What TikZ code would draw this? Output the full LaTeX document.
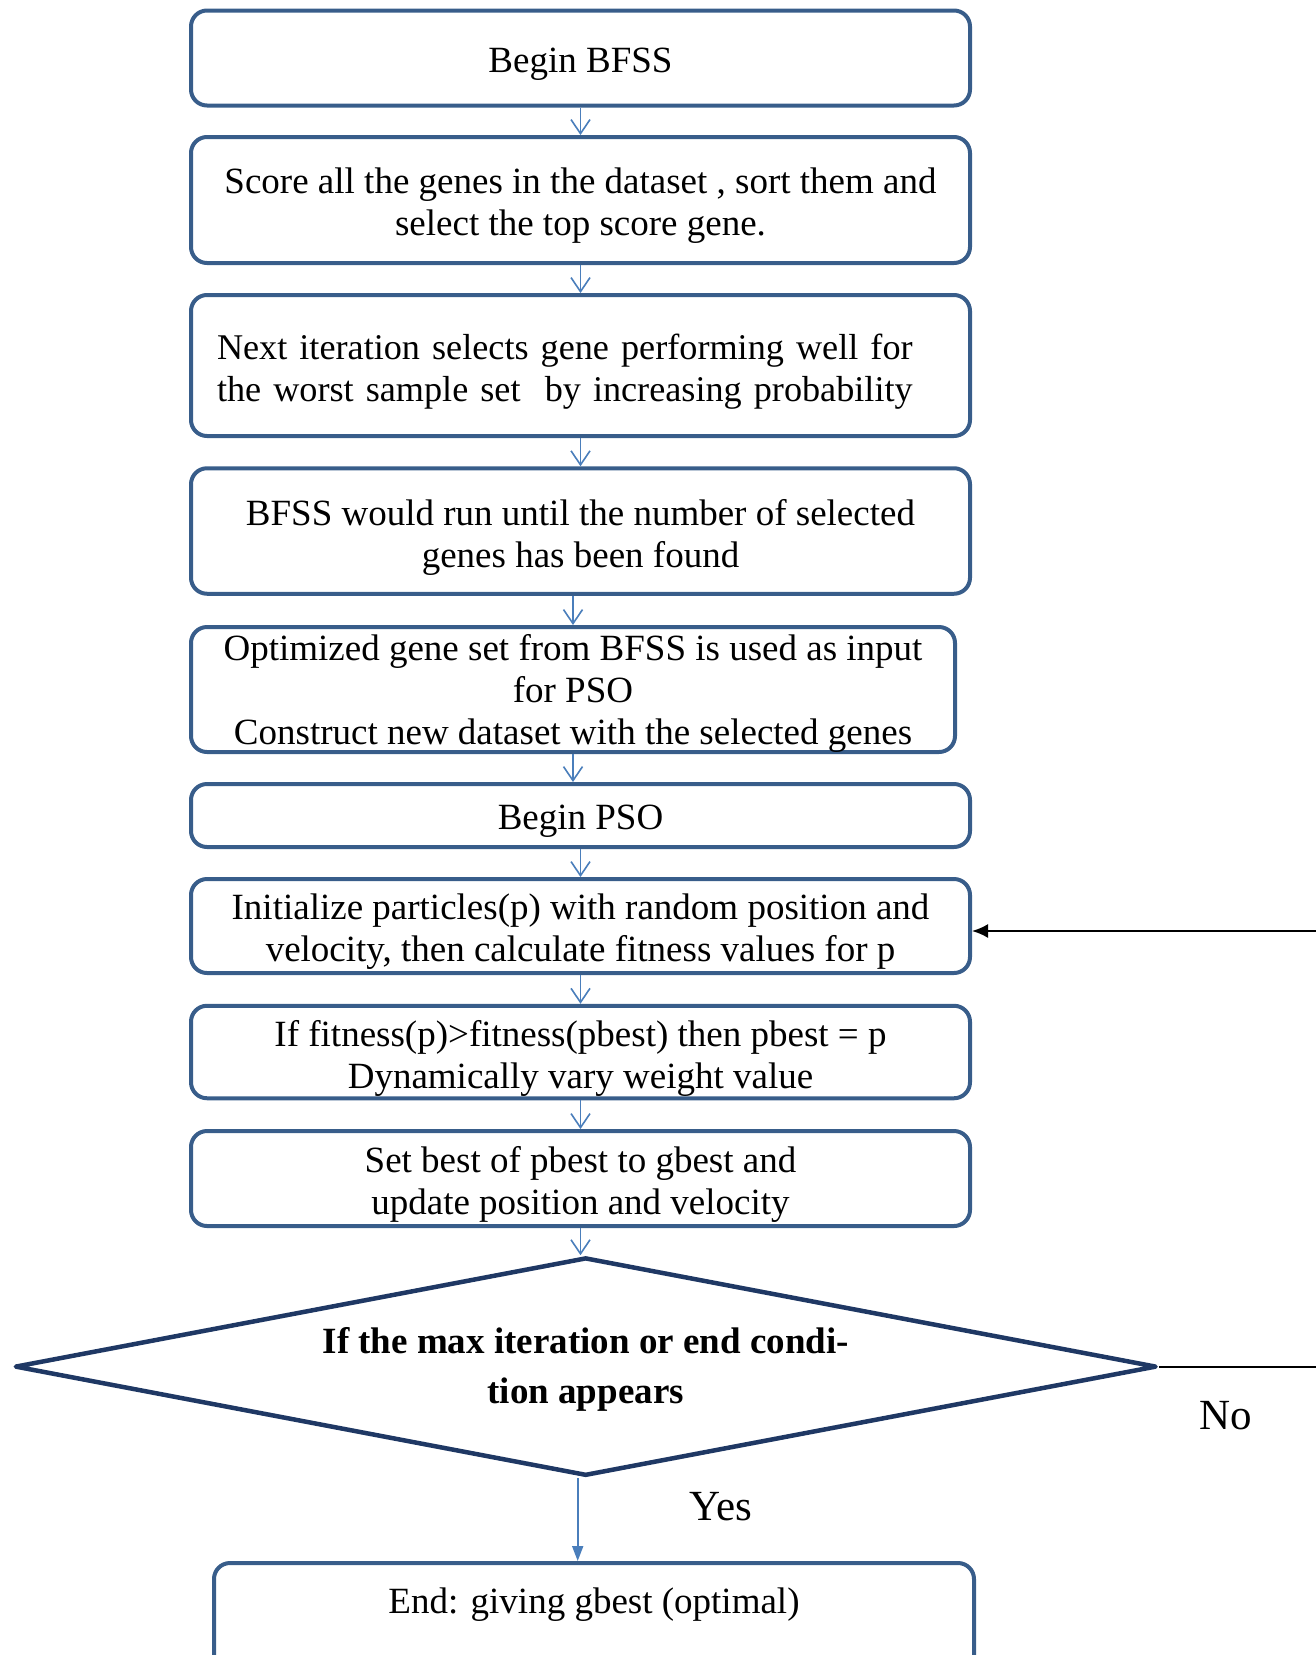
\documentclass[tikz,border=0pt]{standalone}
\usepackage{fontspec}
\setmainfont{Liberation Serif}
\usetikzlibrary{arrows.meta,shapes.geometric,calc}
\definecolor{boxc}{HTML}{385D8A}
\definecolor{arrc}{HTML}{4A7EBB}
\definecolor{dmc}{HTML}{1F3864}
\tikzset{
  box/.style={draw=boxc, line width=4pt, rounded corners=16pt, minimum width=779pt, inner sep=0pt},
  txt/.style={inner sep=0pt, align=center, font=\fontsize{37}{42}\selectfont, yshift=-6pt},
  arr/.style={draw=arrc, line width=1.6pt, -{Straight Barb[length=14pt,width=19pt]}},
  arrfill/.style={draw=arrc, line width=1.8pt, -{Triangle[length=15pt,width=11pt]}, fill=arrc},
  fb/.style={draw=black, line width=2pt},
  lbl/.style={inner sep=0pt, font=\fontsize{43}{48}\selectfont}
}
\begin{document}
\begin{tikzpicture}[x=1pt,y=-1pt]
\useasboundingbox (0,0) rectangle (1316,1655);
\clip (0,0) rectangle (1316,1655);
\node[box, minimum height=95pt, label={[txt]center:Begin BFSS}] (b1) at (580.5,58) {};
\node[box, minimum height=126pt, label={[txt]center:{Score all the genes in the dataset , sort them and\\select the top score gene.}}] (b2) at (580.5,200) {};
\node[box, minimum height=141pt, label={[txt, font=\fontsize{36.2}{42}\selectfont, text width=727pt, align=left]center:{Next iteration selects gene performing well for\\the worst sample set~ by increasing probability}}] (b3) at (580.5,365.5) {};
\node[box, minimum height=125.5pt, label={[txt]center:{BFSS would run until the number of selected\\genes has been found}}] (b4) at (580.5,531) {};
\node[box, minimum width=764pt, minimum height=125pt, label={[txt, yshift=2pt]center:{Optimized gene set from BFSS is used as input\\for PSO\\Construct new dataset with the selected genes}}] (b5) at (573,689.5) {};
\node[box, minimum height=63pt, label={[txt]center:Begin PSO}] (b6) at (580.5,815.5) {};
\node[box, minimum height=94pt, label={[txt]center:{Initialize particles(p) with random position and\\velocity, then calculate fitness values for p}}] (b7) at (580.5,926) {};
\node[box, minimum height=92.5pt, label={[txt]center:{If fitness(p)>fitness(pbest) then pbest = p\\Dynamically vary weight value}}] (b8) at (580.5,1052) {};
\node[box, minimum height=95pt, label={[txt]center:{Set best of pbest to gbest and\\update position and velocity}}] (b9) at (580.5,1178.5) {};
\node[diamond, draw=dmc, line width=4.5pt, line join=round, shape aspect=5.23, minimum width=1141.6pt, minimum height=218.3pt, inner sep=0pt, label={[inner sep=0pt, align=center, font=\fontsize{37}{50}\selectfont\bfseries, yshift=-3pt]center:{If the max iteration or end condi-\\tion appears}}] (d) at (585.7,1366.6) {};
\node[box, minimum width=760pt, minimum height=140pt] (e) at (594,1633) {};
\node[txt] (etxt) at (594,1599) {End: giving gbest (optimal)};
\node[lbl] (yes) at (721,1507) {Yes};
\node[lbl] (no) at (1226,1416) {No};
% arrows
\draw[arr] (b1.south) -- (b2.north);
\draw[arr] (b2.south) -- (b3.north);
\draw[arr] (b3.south) -- (b4.north);
\draw[arr] (b4.south -| b5.north) -- (b5.north);
\draw[arr] (b5.south) -- (b5.south |- b6.north);
\draw[arr] (b6.south) -- (b7.north);
\draw[arr] (b7.south) -- (b8.north);
\draw[arr] (b8.south) -- (b9.north);
\draw[arr] (b9.south) -- (b9.south |- d.north);
\draw[arrfill] ([xshift=-8pt]d.south) -- ([xshift=-8pt]d.south |- e.north);
% feedback
\coordinate (fbin) at (1330,931);
\coordinate (fbout) at (1330,1366.6);
\draw[fb, -{Latex[length=16pt,width=14pt]}] (fbin) -- (fbin -| b7.east);
\draw[fb] (d.east) -- (d.east -| fbout);
\end{tikzpicture}
\end{document}
